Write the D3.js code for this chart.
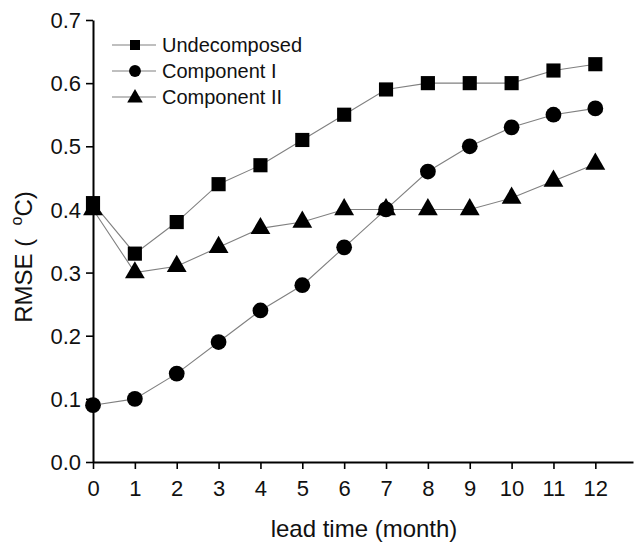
<!DOCTYPE html>
<html>
<head>
<meta charset="utf-8">
<script src="https://cdn.jsdelivr.net/npm/d3@7"></script>
<style>
  html, body { margin: 0; padding: 0; background: #fff; }
  svg { display: block; font-family: "Liberation Sans", Arial, sans-serif; }
</style>
</head>
<body>
<svg id="chart" width="635" height="547"></svg>
<script>
// Lead times (months) and RMSE per series
const leadTimes = [0, 1, 2, 3, 4, 5, 6, 7, 8, 9, 10, 11, 12];
const undecomposed = [0.41, 0.33, 0.38, 0.44, 0.47, 0.51, 0.55, 0.59, 0.60, 0.60, 0.60, 0.62, 0.63];
const componentI   = [0.09, 0.10, 0.14, 0.19, 0.24, 0.28, 0.34, 0.40, 0.46, 0.50, 0.53, 0.55, 0.56];
const componentII  = [0.40, 0.30, 0.31, 0.34, 0.37, 0.38, 0.40, 0.40, 0.40, 0.40, 0.418, 0.445, 0.472];
const seriesNames  = ["Undecomposed", "Component I", "Component II"];
const yTicks = [0.0, 0.1, 0.2, 0.3, 0.4, 0.5, 0.6, 0.7];

const svg = d3.select("#chart");
const margin = { left: 93, top: 20, right: 2, bottom: 85 };
const W = 635, H = 547;

const x = d3.scaleLinear().domain([0, 12.9]).range([margin.left, W - margin.right]);
const y = d3.scaleLinear().domain([0, 0.7]).range([H - margin.bottom, margin.top]);

// Axes
const xAxis = d3.axisBottom(x).tickValues(leadTimes).tickFormat(d3.format("d")).tickSize(7).tickSizeOuter(0);
const yAxis = d3.axisLeft(y).tickValues(yTicks).tickFormat(d3.format(".1f")).tickSize(7).tickSizeOuter(0);

const gx = svg.append("g").attr("transform", `translate(0,${y(0)})`).call(xAxis);
const gy = svg.append("g").attr("transform", `translate(${x(0)},0)`).call(yAxis);

[gx, gy].forEach(g => {
  g.select(".domain").attr("stroke", "#000").attr("stroke-width", 2);
  g.selectAll(".tick line").attr("stroke", "#000").attr("stroke-width", 1.6);
  g.selectAll(".tick text").attr("fill", "#111").attr("font-size", 22)
    .attr("font-family", "Liberation Sans, Arial, sans-serif");
});
gx.selectAll(".tick text").attr("y", 18).attr("dy", "0.71em");
gy.selectAll(".tick text").attr("x", -12).attr("dy", "0.35em");

// Axis titles
svg.append("text")
  .attr("x", 364).attr("y", 537)
  .attr("text-anchor", "middle").attr("font-size", 24).attr("fill", "#111")
  .text("lead time (month)");

const yt = svg.append("text")
  .attr("transform", `translate(32,257) rotate(-90)`)
  .attr("text-anchor", "middle").attr("font-size", 24).attr("fill", "#111");
yt.append("tspan").text("RMSE (\u00A0\u00A0");
yt.append("tspan").attr("font-size", 16).attr("dy", -10).text("o");
yt.append("tspan").attr("dy", 10).text("C)");

// Marker shapes
const symSquare = d3.symbol().type(d3.symbolSquare);
const symCircle = d3.symbol().type(d3.symbolCircle);
const symTri = d3.symbol().type(d3.symbolTriangle);

const series = [
  { name: seriesNames[0], values: undecomposed, sym: symSquare, size: 200, legendSize: 100 },
  { name: seriesNames[1], values: componentI, sym: symCircle, size: 195, legendSize: 110 },
  { name: seriesNames[2], values: componentII, sym: symTri, size: 170, legendSize: 105 }
];

const line = d3.line().x((d, i) => x(leadTimes[i])).y(d => y(d));

// Connecting lines
series.forEach(s => {
  svg.append("path").datum(s.values)
    .attr("d", line).attr("fill", "none")
    .attr("stroke", "#808080").attr("stroke-width", 1.1);
});

// Markers
series.forEach(s => {
  svg.append("g").selectAll("path").data(s.values).join("path")
    .attr("transform", (d, i) => `translate(${x(leadTimes[i])},${y(d)})`)
    .attr("d", s.sym.size(s.size)()).attr("fill", "#000");
});

// Legend
const legend = svg.append("g");
series.forEach((s, i) => {
  const ly = 45 + i * 26;
  legend.append("line").attr("x1", 112).attr("x2", 156).attr("y1", ly).attr("y2", ly)
    .attr("stroke", "#808080").attr("stroke-width", 1.1);
  legend.append("path").attr("transform", `translate(135,${ly + (s.sym === symTri ? 1 : 0)})`)
    .attr("d", s.sym.size(s.legendSize)()).attr("fill", "#000");
  legend.append("text").attr("x", 162).attr("y", ly).attr("dy", "0.35em")
    .attr("font-size", 20).attr("fill", "#111").text(s.name);
});
</script>
</body>
</html>
